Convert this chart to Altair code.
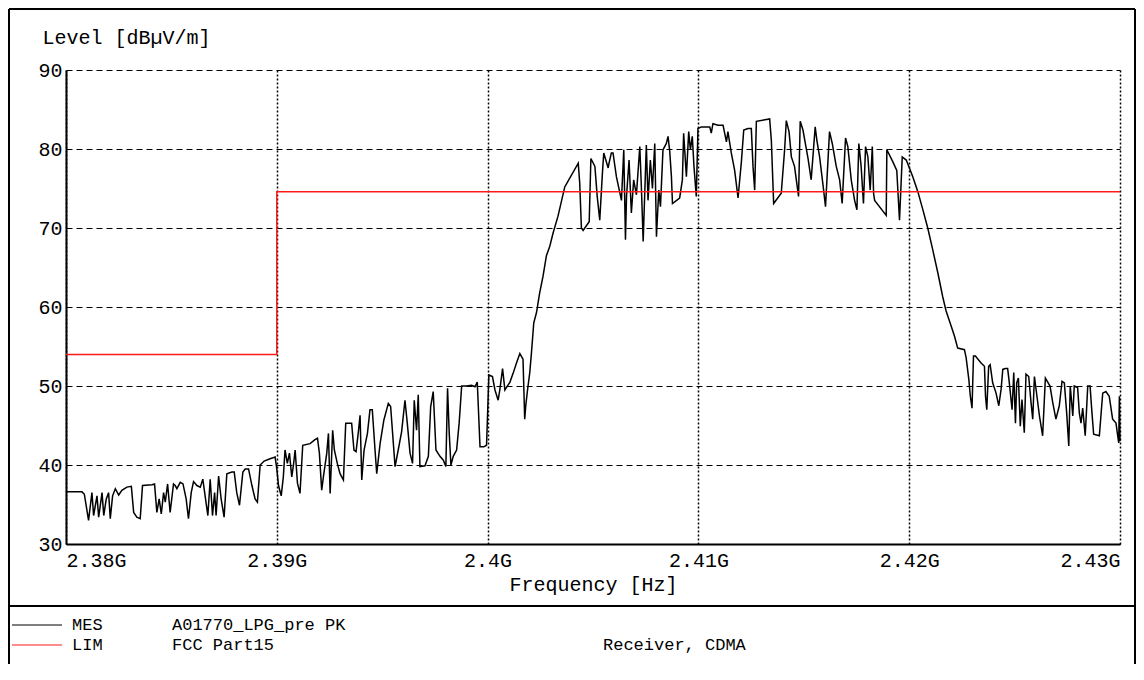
import altair as alt
import pandas as pd

# ---------------- data ----------------
freq_mhz = [
    2380.00, 2380.76, 2380.87, 2381.07, 2381.23, 2381.31, 2381.47, 2381.55, 2381.71, 2381.79,
    2381.91, 2382.02, 2382.10, 2382.21, 2382.34, 2382.50, 2382.65, 2382.89, 2383.10, 2383.21,
    2383.36, 2383.52, 2383.63, 2384.08, 2384.20, 2384.31, 2384.42, 2384.52, 2384.63, 2384.71,
    2384.82, 2384.94, 2385.10, 2385.18, 2385.26, 2385.42, 2385.55, 2385.70, 2385.81, 2385.94,
    2386.05, 2386.21, 2386.37, 2386.49, 2386.64, 2386.73, 2386.84, 2386.95, 2387.05, 2387.12,
    2387.24, 2387.36, 2387.50, 2387.63, 2387.87, 2387.98, 2388.10, 2388.23, 2388.39, 2388.50,
    2388.66, 2388.82, 2388.97, 2389.08, 2389.21, 2389.40, 2389.68, 2389.92, 2390.00, 2390.08,
    2390.21,
    2390.31, 2390.39, 2390.50, 2390.60, 2390.71, 2390.79, 2390.87, 2390.98, 2391.10, 2391.23,
    2391.58, 2391.81, 2391.93, 2392.02, 2392.13, 2392.21, 2392.37, 2392.45, 2392.53, 2392.65,
    2392.73, 2392.87, 2393.00, 2393.16, 2393.27, 2393.55, 2393.66, 2393.76, 2393.87, 2393.95,
    2394.03, 2394.14, 2394.30, 2394.42, 2394.53, 2394.66, 2394.74, 2394.90, 2395.08, 2395.29,
    2395.40, 2395.61, 2395.76, 2395.92, 2396.08, 2396.19, 2396.32, 2396.44, 2396.52, 2396.63,
    2396.71, 2396.79, 2397.03, 2397.19, 2397.30, 2397.42, 2397.55, 2397.74, 2397.90, 2398.02,
    2398.10, 2398.18, 2398.26, 2398.37, 2398.53, 2398.65, 2398.77, 2399.00, 2399.24, 2399.40,
    2399.51, 2399.64, 2399.82, 2399.95, 2400.06, 2400.23, 2400.35, 2400.50, 2400.58, 2400.71,
    2400.82, 2401.06, 2401.21, 2401.37, 2401.53,
    2401.68, 2401.76, 2401.81, 2401.89, 2402.00, 2402.08, 2402.19, 2402.32, 2402.47, 2402.63,
    2402.79, 2402.95, 2403.11, 2403.34, 2403.66, 2403.77,
    2404.30, 2404.37, 2404.45, 2404.53, 2404.82, 2404.90, 2405.09, 2405.20, 2405.32, 2405.45,
    2405.51, 2405.72, 2405.76, 2405.87, 2405.95, 2406.11, 2406.35, 2406.46, 2406.54, 2406.59,
    2406.71, 2406.82, 2406.93, 2407.06, 2407.22, 2407.30, 2407.38, 2407.53, 2407.61, 2407.72,
    2407.82, 2407.93, 2408.01, 2408.12, 2408.20, 2408.32, 2408.48, 2408.56, 2408.64, 2408.72,
    2408.77, 2409.11, 2409.24, 2409.30, 2409.43, 2409.54, 2409.62, 2409.71, 2409.79, 2409.90,
    2409.98, 2410.14, 2410.54, 2410.61, 2410.69, 2410.93,
    2411.17, 2411.33, 2411.40, 2411.56, 2411.72, 2411.88, 2412.04, 2412.15, 2412.35, 2412.51,
    2412.59, 2412.67, 2412.75, 2413.38, 2413.46, 2413.57, 2413.93, 2414.09, 2414.17, 2414.30,
    2414.41, 2414.56, 2414.75, 2414.83, 2414.96, 2415.20, 2415.35, 2415.54, 2415.62, 2415.75,
    2415.94, 2416.03, 2416.22, 2416.35, 2416.54, 2416.70, 2416.82, 2416.98, 2417.09, 2417.25,
    2417.41, 2417.52, 2417.61, 2417.72, 2417.83, 2417.93, 2418.04, 2418.15, 2418.25, 2418.31,
    2418.36, 2418.91, 2418.94, 2419.22, 2419.41, 2419.54,
    2419.67, 2419.86, 2420.01, 2420.17, 2420.41, 2420.65, 2420.88, 2421.12, 2421.36, 2421.59,
    2421.75, 2421.99, 2422.15, 2422.30, 2422.62, 2422.70, 2422.83, 2422.90, 2422.98, 2423.05,
    2423.14, 2423.41, 2423.57, 2423.62, 2423.68, 2423.77, 2423.84, 2423.96, 2424.12, 2424.25,
    2424.36, 2424.44, 2424.56, 2424.67, 2424.75, 2424.88, 2424.96, 2425.04, 2425.10, 2425.18,
    2425.27, 2425.35, 2425.46, 2425.54, 2425.67, 2425.78, 2425.86, 2425.94, 2426.06, 2426.18,
    2426.33, 2426.46, 2426.68, 2426.81, 2426.96, 2427.12, 2427.25, 2427.36, 2427.47, 2427.57,
    2427.64, 2427.76, 2427.83, 2427.99, 2428.07, 2428.15, 2428.23, 2428.35, 2428.47, 2428.58,
    2428.67, 2428.75, 2429.02, 2429.10, 2429.18, 2429.33, 2429.49, 2429.65, 2429.81, 2429.89,
    2429.94, 2429.97, 2430.00,
]

level_dbuv = [
    36.6, 36.6, 36.3, 33.0, 36.5, 33.6, 36.1, 33.4, 36.5, 33.6,
    35.7, 36.5, 33.2, 36.1, 37.0, 36.2, 36.8, 37.2, 37.3, 34.0,
    33.4, 33.2, 37.4, 37.5, 37.6, 34.0, 35.7, 33.8, 36.5, 35.3,
    37.6, 34.0, 37.6, 37.4, 37.0, 37.8, 37.6, 35.7, 33.2, 36.5,
    37.9, 37.4, 37.2, 38.2, 35.3, 33.6, 38.2, 33.6, 36.5, 33.6,
    38.6, 35.7, 33.4, 38.9, 39.1, 39.1, 36.5, 34.9, 39.1, 39.5,
    39.5, 37.4, 35.7, 35.3, 40.0, 40.5, 40.8, 41.0, 39.5, 37.4,
    36.1,
    38.5, 41.9, 40.2, 41.5, 38.5, 40.0, 41.9, 37.7, 36.4, 42.5,
    42.7, 43.2, 43.4, 41.5, 36.8, 38.5, 41.5, 44.0, 36.4, 44.4,
    41.9, 40.2, 38.9, 38.1, 45.3, 45.3, 41.9, 41.7, 44.2, 46.3,
    38.1, 41.9, 44.0, 47.0, 47.0, 41.9, 38.9, 42.7, 45.7, 47.8,
    47.4, 39.8, 41.9, 44.2, 48.2, 45.3, 41.5, 40.2, 48.2, 44.4,
    48.9, 39.8, 39.9, 41.1, 47.4, 49.3, 41.9, 41.1, 40.6, 39.8,
    49.7, 44.0, 40.0, 41.1, 41.9, 45.3, 50.0, 50.0, 50.1, 49.9,
    50.5, 42.3, 42.3, 42.5, 51.4, 51.2, 49.5, 48.2, 49.5, 52.2,
    49.5, 50.5, 51.6, 52.9, 54.1,
    53.4, 45.8, 47.5, 49.4, 51.7, 54.2, 58.0, 59.3, 61.8, 63.9,
    66.5, 67.7, 69.4, 71.5, 75.2, 75.7,
    78.2, 75.7, 70.0, 69.7, 70.8, 78.8, 77.8, 74.0, 71.0, 77.1,
    79.5, 77.6, 78.2, 79.5, 79.5, 76.5, 73.5, 79.9, 68.5, 74.0,
    78.6, 71.9, 76.1, 74.2, 80.3, 74.8, 68.3, 80.5, 73.5, 78.6,
    75.0, 80.7, 68.9, 74.8, 72.7, 79.9, 80.7, 81.6, 79.7, 76.5,
    73.1, 73.8, 76.1, 82.0, 76.5, 82.2, 79.9, 81.6, 77.8, 74.0,
    82.6, 82.8, 82.8, 82.0, 83.2, 83.0,
    83.0, 80.9, 82.2, 79.5, 77.3, 73.8, 78.4, 82.4, 82.6, 82.6,
    77.8, 74.8, 83.5, 83.8, 81.1, 73.1, 74.4, 79.9, 83.6, 82.2,
    79.0, 77.8, 74.0, 83.5, 82.4, 78.8, 76.1, 82.8, 81.1, 79.0,
    74.8, 72.7, 82.2, 80.7, 77.8, 76.1, 73.1, 81.4, 80.3, 76.1,
    73.5, 72.3, 80.7, 77.8, 73.1, 80.3, 79.0, 74.8, 80.3, 74.4,
    73.5, 71.6, 79.9, 78.4, 77.3, 71.0,
    79.0, 78.6, 77.6, 76.5, 74.6, 72.3, 70.0, 67.2, 64.3, 61.3,
    59.5, 57.6, 56.3, 54.8, 54.6, 53.6, 50.8, 48.7, 47.2, 53.8,
    53.8, 52.9, 52.5, 48.7, 47.0, 52.5, 52.7, 50.4, 49.1, 47.5,
    49.6, 52.1, 52.2, 52.2, 50.4, 47.0, 51.7, 45.3, 50.4, 51.0,
    44.9, 48.3, 44.1, 51.5, 51.2, 47.9, 45.8, 51.2, 48.7, 46.2,
    43.7, 51.0, 50.0, 47.9, 45.8, 47.5, 50.6, 50.4, 46.6, 42.4,
    50.0, 46.2, 50.0, 49.8, 46.6, 45.3, 47.2, 43.7, 50.0, 50.0,
    46.6, 43.9, 43.7, 46.4, 49.1, 49.3, 48.7, 45.8, 45.3, 43.7,
    42.8, 48.7, 43.0,
]

lim_freq_mhz = [2380.0, 2390.0, 2390.0, 2430.0]
lim_level_dbuv = [54.0, 54.0, 74.6, 74.6]

x_ticks_mhz = [2380, 2390, 2400, 2410, 2420, 2430]
y_ticks_db = [30, 40, 50, 60, 70, 80, 90]

y_title = "Level [dBµV/m]"
x_title = "Frequency [Hz]"
legend_codes = ["MES", "LIM"]
legend_names = ["A01770_LPG_pre PK", "FCC Part15"]
legend_colors = ["#000000", "#ff1a1a"]
note_text = "Receiver, CDMA"

# ---------------- chart ----------------
FONT = "Liberation Mono"
FS = 20
LFS = 17
W, H = 1054, 474
PAD = {"left": 58, "top": 62, "right": 16, "bottom": 120}

mes = pd.DataFrame({"f": freq_mhz, "L": level_dbuv, "i": list(range(len(freq_mhz)))})
lim = pd.DataFrame({"f": lim_freq_mhz, "L": lim_level_dbuv, "i": list(range(len(lim_freq_mhz)))})
one = pd.DataFrame({"k": [0]})

xscale = alt.Scale(domain=[2380, 2430], nice=False, zero=False)
yscale = alt.Scale(domain=[30, 90], nice=False, zero=False)

xaxis = alt.Axis(
    values=x_ticks_mhz,
    labelExpr="format(datum.value / 1000, '.2~f') + 'G'",
    grid=True, gridDash=[2, 2], gridColor="#000000", gridWidth=1.5, gridOpacity=1,
    domainColor="#000000", domainWidth=2, tickSize=0,
    labelFont=FONT, labelFontSize=FS, labelColor="#000000",
    labelAlign={
        "condition": [
            {"test": "datum.value == 2380", "value": "left"},
            {"test": "datum.value == 2430", "value": "right"},
        ],
        "value": "center",
    },
    labelBaseline="alphabetic", labelPadding=22, labelBound=False, labelFlush=False,
    labelOverlap=False,
    title=x_title, titleFont=FONT, titleFontSize=FS, titleFontWeight="normal",
    titleColor="#000000", titleBaseline="alphabetic", titleY=46,
)
yaxis = alt.Axis(
    values=y_ticks_db,
    grid=True, gridDash=[6, 4], gridColor="#000000", gridWidth=1, gridOpacity=1,
    domainColor="#000000", domainWidth=2, tickSize=0,
    labelFont=FONT, labelFontSize=FS, labelColor="#000000",
    labelPadding=4, labelBaseline="middle", labelAlign="right",
    title=y_title, titleAngle=0, titleAlign="left", titleBaseline="alphabetic",
    titleX=-24, titleY=-27, titleFont=FONT, titleFontSize=FS,
    titleFontWeight="normal", titleColor="#000000",
)

trace = alt.Chart(mes).mark_line(color="#000000", strokeWidth=1.5).encode(
    x=alt.X("f:Q", scale=xscale, axis=xaxis),
    y=alt.Y("L:Q", scale=yscale, axis=yaxis),
    order="i:Q",
)
limit = alt.Chart(lim).mark_line(color=legend_colors[1], strokeWidth=1.5).encode(
    x=alt.X("f:Q", scale=xscale),
    y=alt.Y("L:Q", scale=yscale),
    order="i:Q",
)

base = alt.Chart(one)
edge = dict(color="#000000", strokeWidth=2)
left_x = -57
right_x = 1069
top_y = -61
bot_y = H + PAD["bottom"]
sep_y = 536

frame_left = base.mark_rule(**edge).encode(x=alt.value(left_x), y=alt.value(top_y), y2=alt.value(bot_y))
frame_right = base.mark_rule(**edge).encode(x=alt.value(right_x), y=alt.value(top_y), y2=alt.value(bot_y))
frame_top = base.mark_rule(**edge).encode(x=alt.value(left_x), x2=alt.value(right_x), y=alt.value(top_y))
frame_sep = base.mark_rule(**edge).encode(x=alt.value(left_x), x2=alt.value(right_x), y=alt.value(sep_y))

legend_layers = []
row_y = [555, 575]
for k in range(2):
    legend_layers.append(
        base.mark_rule(color=legend_colors[k], strokeWidth=1.2).encode(
            x=alt.value(-54), x2=alt.value(-4), y=alt.value(row_y[k])
        )
    )
    legend_layers.append(
        base.mark_text(align="left", baseline="middle", font=FONT, fontSize=LFS, color="#000000").encode(
            x=alt.value(6), y=alt.value(row_y[k]), text=alt.value(legend_codes[k])
        )
    )
    legend_layers.append(
        base.mark_text(align="left", baseline="middle", font=FONT, fontSize=LFS, color="#000000").encode(
            x=alt.value(106), y=alt.value(row_y[k]), text=alt.value(legend_names[k])
        )
    )
note = base.mark_text(align="left", baseline="middle", font=FONT, fontSize=LFS, color="#000000").encode(
    x=alt.value(537), y=alt.value(row_y[1]), text=alt.value(note_text)
)

chart = alt.layer(
    trace, limit, frame_left, frame_right, frame_top, frame_sep, *legend_layers, note
).properties(
    width=W, height=H,
    autosize=alt.AutoSizeParams(type="none"),
    padding=PAD,
    background="#ffffff",
).configure_view(stroke=None)

chart.save("out.html", embed_options={"renderer": "svg", "actions": False})
